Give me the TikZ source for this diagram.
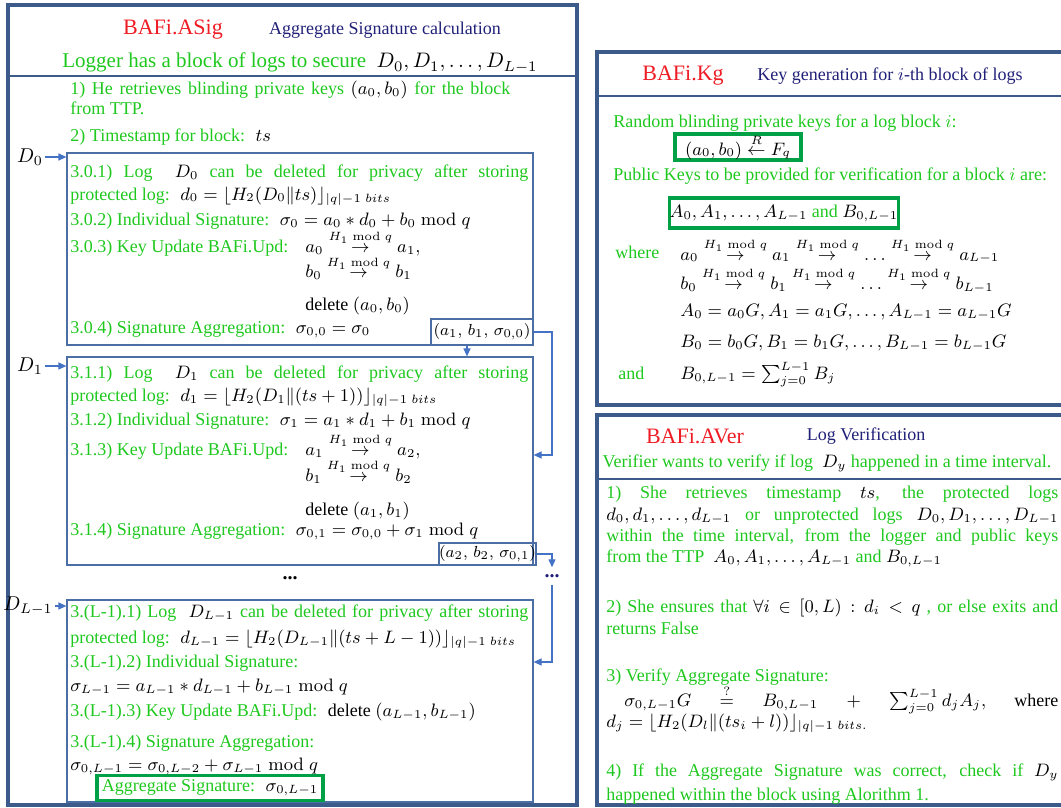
\documentclass[tikz,border=0pt]{standalone}
\usepackage{fix-cm}
\usepackage{amsmath}
\usepackage[no-math]{fontspec}
\setmainfont{Liberation Serif}
\usepackage{xcolor}
\usetikzlibrary{arrows.meta,fit,positioning}

\definecolor{panelblue}{RGB}{60,90,138}
\definecolor{boxblue}{RGB}{75,110,165}
\definecolor{arrowblue}{RGB}{68,114,196}
\definecolor{titlered}{RGB}{238,28,36}
\definecolor{navy}{RGB}{32,32,120}
\definecolor{loggreen}{RGB}{30,200,30}
\definecolor{keygreen}{RGB}{0,160,70}

\newcommand{\blk}[1]{\textcolor{black}{$#1$}}
\newcommand{\justln}[2]{\makebox[#1][s]{#2}}
\newcommand{\hupd}{\stackrel{H_1\bmod q}{\rightarrow}}

\begin{document}
\begin{tikzpicture}[
      x=0.5pt, y=-0.5pt,
      panel/.style={draw=panelblue,line width=2pt},
      sep/.style={draw=panelblue,line width=1pt},
      blockbox/.style={draw=boxblue,line width=0.6pt,inner sep=0pt},
      tuple/.style={draw=boxblue,line width=0.6pt,inner sep=0pt,font=\fontsize{8}{9}\selectfont},
      keybox/.style={draw=keygreen,line width=1.6pt,inner sep=0pt},
      ttl/.style={text=titlered,font=\fontsize{11}{12}\selectfont},
      sub/.style={text=navy,font=\fontsize{9}{10}\selectfont},
      txt/.style={text=loggreen,anchor=base west,inner sep=0pt,font=\fontsize{9}{11}\selectfont},
      mth/.style={anchor=base west,inner sep=0pt,font=\fontsize{9}{11}\selectfont},
      txtr/.style={text=loggreen,anchor=base west,inner sep=0pt,font=\fontsize{9}{11}\selectfont},
      mthr/.style={anchor=base west,inner sep=0pt,font=\fontsize{9}{11}\selectfont},
      lbl/.style={inner sep=1pt,font=\fontsize{10}{11}\selectfont},
      conn/.style={draw=arrowblue,line width=0.6pt,-{Triangle[length=4pt,width=3.5pt]}}
    ]
    \useasboundingbox (0,0) rectangle (1061,808);

    % BAFi.ASig panel
    \draw[panel] (8,5) rectangle (577,805);
    \draw[sep] (8,76) -- (577,76);
    \node[ttl] (asig) at (173,30) {BAFi.ASig};
    \node[sub] (asigsub) at (385,30) {Aggregate Signature calculation};
    \node[txt,anchor=base,font=\fontsize{10.5}{12}\selectfont] (logger) at (300,68) {Logger has a block of logs to secure \ \blk{D_0,D_1,\ldots,D_{L-1}}};
    \node[txt] (s1) at (70,95) {\justln{220pt}{1) He retrieves blinding private keys \blk{(a_0,b_0)} for the block}};
    \node[txt] (s1b) at (70,115) {from TTP.};
    \node[txt] (s2) at (70,142) {2) Timestamp for block: \ \blk{ts}};

    % block 0
    \node[blockbox,fit={(67,153) (533,345)}] (b0) {};
    \node[txt] (l01) at (70,177) {\justln{229pt}{3.0.1) Log \ \blk{D_0} can be deleted for privacy after storing}};
    \node[txt] (l02) at (70,200) {protected log: \ \blk{d_0=\lfloor H_2(D_0\|ts)\rfloor_{|q|-1\ bits}}};
    \node[txt] (l03) at (70,226) {3.0.2) Individual Signature: \ \blk{\sigma_0=a_0*d_0+b_0\bmod q}};
    \node[txt] (l04) at (70,252) {3.0.3) Key Update BAFi.Upd:};
    \node[mth] (l04a) at (305,252) {$a_0\hupd a_1,$};
    \node[mth] (l04b) at (305,278) {$b_0\hupd b_1$};
    \node[mth] (l05) at (305,310) {delete $(a_0,b_0)$};
    \node[txt] (l06) at (70,333) {3.0.4) Signature Aggregation: \ \blk{\sigma_{0,0}=\sigma_0}};
    \node[tuple,minimum width=51pt,minimum height=13pt] (t0) at (482,332) {$(a_1,\,b_1,\,\sigma_{0,0})$};

    % block 1
    \node[blockbox,fit={(67,357) (533,565)}] (b1) {};
    \node[txt] (l11) at (70,378) {\justln{229pt}{3.1.1) Log \ \blk{D_1} can be deleted for privacy after storing}};
    \node[txt] (l12) at (70,401) {protected log: \ \blk{d_1=\lfloor H_2(D_1\|(ts+1))\rfloor_{|q|-1\ bits}}};
    \node[txt] (l13) at (70,425) {3.1.2) Individual Signature: \ \blk{\sigma_1=a_1*d_1+b_1\bmod q}};
    \node[txt] (l14) at (70,455) {3.1.3) Key Update BAFi.Upd:};
    \node[mth] (l14a) at (305,455) {$a_1\hupd a_2,$};
    \node[mth] (l14b) at (305,481) {$b_1\hupd b_2$};
    \node[mth] (l15) at (305,515) {delete $(a_1,b_1)$};
    \node[txt] (l16) at (70,535) {3.1.4) Signature Aggregation: \ \blk{\sigma_{0,1}=\sigma_{0,0}+\sigma_1\bmod q}};
    \node[tuple,minimum width=45.5pt,minimum height=11pt] (t1) at (487.5,554) {$(a_2,\,b_2,\,\sigma_{0,1})$};

    \node[font=\bfseries] (gap) at (290,578) {...};
    \node[text=navy,font=\bfseries] (gapr) at (552,576) {...};

    % block L-1
    \node[blockbox,fit={(67,600) (533,802)}] (bL) {};
    \node[txt] (lL1) at (70,617) {\justln{229pt}{3.(L-1).1) Log \ \blk{D_{L-1}} can be deleted for privacy after storing}};
    \node[txt] (lL2) at (70,643) {protected log: \ \blk{d_{L-1}=\lfloor H_2(D_{L-1}\|(ts+L-1))\rfloor_{|q|-1\ bits}}};
    \node[txt] (lL3) at (70,667) {3.(L-1).2) Individual Signature:};
    \node[mth] (lL4) at (70,691) {$\sigma_{L-1}=a_{L-1}*d_{L-1}+b_{L-1}\bmod q$};
    \node[txt] (lL5) at (70,716) {3.(L-1).3) Key Update BAFi.Upd: \ \textcolor{black}{delete $(a_{L-1},b_{L-1})$}};
    \node[txt] (lL6) at (70,747) {3.(L-1).4) Signature Aggregation:};
    \node[mth] (lL7) at (70,770) {$\sigma_{0,L-1}=\sigma_{0,L-2}+\sigma_{L-1}\bmod q$};
    \node[keybox,text=loggreen,minimum width=113pt,minimum height=12.5pt,font=\fontsize{9}{11}\selectfont] (agg) at (210,788) {Aggregate Signature: \ \blk{\sigma_{0,L-1}}};

    % log inputs and chaining
    \node[lbl] (d0) at (30,157) {$D_0$};
    \node[lbl] (d1) at (30,366) {$D_1$};
    \node[lbl] (dL) at (28,606) {$D_{L-1}$};
    \draw[conn] (d0.east) -- (d0.east -| b0.west);
    \draw[conn] (d1.east) -- (d1.east -| b1.west);
    \draw[conn] (dL.east) -- (dL.east -| bL.west);
    \coordinate (k1) at (552,455);
    \coordinate (k2) at (552,662);
    \draw[conn] ([xshift=-7.5pt]t0.south) -- ([xshift=-7.5pt]t0.south |- b1.north);
    \draw[conn] (t0.east) -| (k1) -- (k1 -| b1.east);
    \draw[conn] (t1.east) -| (gapr.north);
    \draw[conn] (gapr.south) -- (k2) -- (k2 -| bL.east);

    % BAFi.Kg panel
    \draw[panel] (597,52) rectangle (1070,405);
    \draw[sep] (597,96) -- (1070,96);
    \node[ttl] (kg) at (683,76) {BAFi.Kg};
    \node[sub] (kgsub) at (890,76) {Key generation for $i$-th block of logs};
    \node[txtr] (kr) at (613,127) {Random blinding private keys for a log block $i$:};
    \node[keybox,minimum width=63pt,minimum height=13pt,font=\fontsize{9}{11}\selectfont] (kpriv) at (738,147) {$(a_0,b_0)\stackrel{R}{\leftarrow}F_q$};
    \node[txtr] (kp) at (613,181) {Public Keys to be provided for verification for a block $i$ are:};
    \node[keybox,minimum width=107pt,minimum height=15pt,font=\fontsize{9}{11}\selectfont] (kpub) at (784,213) {$A_0,A_1,\ldots,A_{L-1}$ \textcolor{loggreen}{and} $B_{0,L-1}$};
    \node[txtr] (kw) at (615,258) {where};
    \node[mthr] (ka) at (680,260) {$a_0\hupd a_1\hupd\ldots\hupd a_{L-1}$};
    \node[mthr] (kb) at (680,289) {$b_0\hupd b_1\hupd\ldots\hupd b_{L-1}$};
    \node[mthr] (kA) at (680,316) {$A_0=a_0G,A_1=a_1G,\ldots,A_{L-1}=a_{L-1}G$};
    \node[mthr] (kB) at (680,347) {$B_0=b_0G,B_1=b_1G,\ldots,B_{L-1}=b_{L-1}G$};
    \node[txtr] (kand) at (618,379) {and};
    \node[mthr] (kBs) at (680,379) {$B_{0,L-1}=\sum_{j=0}^{L-1}B_j$};

    % BAFi.AVer panel
    \draw[panel] (597,415) rectangle (1070,805);
    \draw[sep] (597,479) -- (1070,479);
    \node[ttl] (aver) at (695,436) {BAFi.AVer};
    \node[sub] (aversub) at (866,436) {Log Verification};
    \node[txtr,anchor=base] (v0) at (827,467) {Verifier wants to verify if log \ \blk{D_y} happened in a time interval.};
    \node[txtr] (v11) at (606,498) {\justln{226pt}{1) She retrieves timestamp \blk{ts}, the protected logs}};
    \node[txtr] (v12) at (606,520) {\justln{226pt}{\blk{d_0,d_1,\ldots,d_{L-1}} or unprotected logs \blk{D_0,D_1,\ldots,D_{L-1}}}};
    \node[txtr] (v13) at (606,541) {\justln{226pt}{within the time interval, from the logger and public keys}};
    \node[txtr] (v14) at (606,562) {from the TTP \ \blk{A_0,A_1,\ldots,A_{L-1}} and \blk{B_{0,L-1}}};
    \node[txtr] (v21) at (606,612) {\justln{226pt}{2) She ensures that \blk{\forall i\in[0,L):d_i<q} , or else exits and}};
    \node[txtr] (v22) at (606,634) {returns False};
    \node[txtr] (v31) at (606,681) {3) Verify Aggregate Signature:};
    \node[txtr] (v32) at (606,706) {\justln{226pt}{\hspace*{9pt}\blk{\sigma_{0,L-1}G} \blk{\stackrel{?}{=}} \blk{B_{0,L-1}} \blk{+} \blk{\sum_{j=0}^{L-1}d_jA_j,} \textcolor{black}{where}}};
    \node[mthr] (v33) at (606,727) {$d_j=\lfloor H_2(D_l\|(ts_i+l))\rfloor_{|q|-1\ bits.}$};
    \node[txtr] (v41) at (606,776) {\justln{226pt}{4) If the Aggregate Signature was correct, check if \blk{D_y}}};
    \node[txtr] (v42) at (606,800) {happened within the block using Alorithm 1.};
  \end{tikzpicture}
\end{document}
